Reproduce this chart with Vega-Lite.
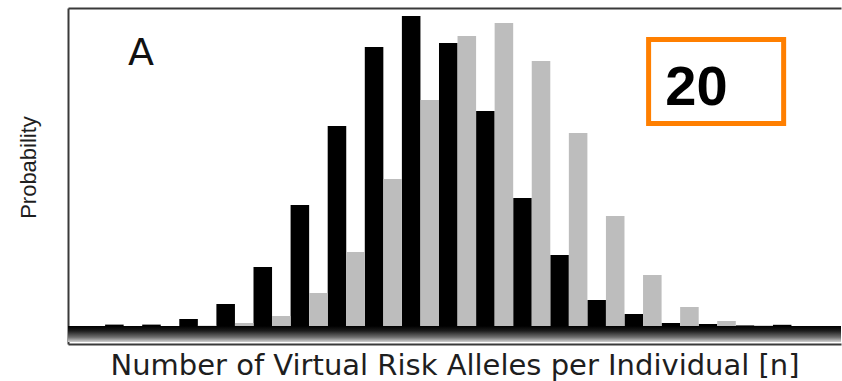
{
  "$schema": "https://vega.github.io/schema/vega-lite/v6.json",
  "width": 773,
  "height": 336,
  "autosize": {"type": "none"},
  "padding": {"left": 68, "top": 8, "right": 1, "bottom": 37},
  "background": "white",
  "config": {"view": {"stroke": null}},
  "layer": [
    {
      "data": {
        "values": [
          {"n": 0, "group": "1", "p": 0},
          {"n": 1, "group": "1", "p": 0.0007},
          {"n": 2, "group": "1", "p": 0.0007},
          {"n": 3, "group": "1", "p": 0.0035},
          {"n": 4, "group": "1", "p": 0.011},
          {"n": 5, "group": "1", "p": 0.0295},
          {"n": 6, "group": "1", "p": 0.0605},
          {"n": 7, "group": "1", "p": 0.1},
          {"n": 8, "group": "1", "p": 0.1395},
          {"n": 9, "group": "1", "p": 0.155},
          {"n": 10, "group": "1", "p": 0.1415},
          {"n": 11, "group": "1", "p": 0.1075},
          {"n": 12, "group": "1", "p": 0.064},
          {"n": 13, "group": "1", "p": 0.0355},
          {"n": 14, "group": "1", "p": 0.013},
          {"n": 15, "group": "1", "p": 0.006},
          {"n": 16, "group": "1", "p": 0.0015},
          {"n": 17, "group": "1", "p": 0.001},
          {"n": 18, "group": "1", "p": 0.0003},
          {"n": 19, "group": "1", "p": 0.0006},
          {"n": 0, "group": "2", "p": 0},
          {"n": 1, "group": "2", "p": 0},
          {"n": 2, "group": "2", "p": 0},
          {"n": 3, "group": "2", "p": 0.0002},
          {"n": 4, "group": "2", "p": 0.0015},
          {"n": 5, "group": "2", "p": 0.005},
          {"n": 6, "group": "2", "p": 0.0165},
          {"n": 7, "group": "2", "p": 0.037},
          {"n": 8, "group": "2", "p": 0.0735},
          {"n": 9, "group": "2", "p": 0.113},
          {"n": 10, "group": "2", "p": 0.145},
          {"n": 11, "group": "2", "p": 0.1515},
          {"n": 12, "group": "2", "p": 0.1325},
          {"n": 13, "group": "2", "p": 0.0965},
          {"n": 14, "group": "2", "p": 0.055},
          {"n": 15, "group": "2", "p": 0.0255},
          {"n": 16, "group": "2", "p": 0.0095},
          {"n": 17, "group": "2", "p": 0.0025},
          {"n": 18, "group": "2", "p": 0.0003},
          {"n": 19, "group": "2", "p": 0}
        ]
      },
      "mark": {"type": "bar"},
      "encoding": {
        "x": {
          "field": "n",
          "type": "ordinal",
          "scale": {"paddingInner": 0, "paddingOuter": 0.418, "align": 0},
          "axis": {
            "orient": "bottom",
            "labels": false,
            "ticks": false,
            "grid": false,
            "domainColor": "#3a3a3a",
            "domainWidth": 2,
            "title": "Number of Virtual Risk Alleles per Individual [n]",
            "titleFont": "DejaVu Sans",
            "titleFontSize": 29,
            "titleFontWeight": "normal",
            "titleColor": "#1e1e1e",
            "titleBaseline": "alphabetic",
            "titleAnchor": "middle",
            "titleY": 30
          }
        },
        "xOffset": {
          "field": "group",
          "type": "nominal",
          "scale": {"paddingInner": 0, "paddingOuter": 0}
        },
        "y": {
          "field": "p",
          "type": "quantitative",
          "scale": {"domain": [-0.009, 0.159], "nice": false, "zero": false},
          "axis": {
            "labels": false,
            "ticks": false,
            "grid": false,
            "domainColor": "#3a3a3a",
            "domainWidth": 2,
            "title": "Probability",
            "titleFont": "Liberation Sans",
            "titleFontSize": 22,
            "titleFontWeight": "normal",
            "titleColor": "#1e1e1e",
            "titleBaseline": "alphabetic",
            "titleAngle": -90,
            "titleAlign": "center",
            "titleX": -33,
            "titleY": 159
          }
        },
        "color": {
          "field": "group",
          "type": "nominal",
          "scale": {"domain": ["1", "2"], "range": ["#000000", "#bdbdbd"]},
          "legend": null
        }
      }
    },
    {
      "data": {"values": [{}]},
      "layer": [
        {
          "mark": {
            "type": "rect",
            "fill": {
              "gradient": "linear",
              "x1": 0, "y1": 0, "x2": 0, "y2": 1,
              "stops": [
                {"offset": 0, "color": "#000000"},
                {"offset": 0.3, "color": "#1c1c1c"},
                {"offset": 0.7, "color": "#6e6e6e"},
                {"offset": 1, "color": "#d0d0d0"}
              ]
            }
          },
          "encoding": {
            "x": {
              "datum": 0,
              "type": "quantitative",
              "scale": {"domain": [0, 20.836], "nice": false, "zero": false},
              "axis": {
                "orient": "top",
                "labels": false,
                "ticks": false,
                "grid": false,
                "title": null,
                "domainColor": "#3a3a3a",
                "domainWidth": 2
              }
            },
            "x2": {"datum": 20.836},
            "y": {"datum": 0},
            "y2": {"datum": -0.008}
          }
        },
        {
          "mark": {"type": "rect", "fill": null, "stroke": "#ff7f00", "strokeWidth": 5},
          "encoding": {
            "x": {"datum": 15.65, "type": "quantitative"},
            "x2": {"datum": 19.29},
            "y": {"datum": 0.1433},
            "y2": {"datum": 0.1013}
          }
        },
        {
          "mark": {"type": "text", "font": "Liberation Sans", "fontWeight": "bold", "fontSize": 56, "align": "center", "baseline": "alphabetic", "color": "#000000"},
          "encoding": {
            "x": {"datum": 16.94, "type": "quantitative"},
            "y": {"datum": 0.1105},
            "text": {"value": "20"}
          }
        },
        {
          "mark": {"type": "text", "font": "DejaVu Sans", "fontSize": 38, "align": "center", "baseline": "alphabetic", "color": "#111111"},
          "encoding": {
            "x": {"datum": 1.97, "type": "quantitative"},
            "y": {"datum": 0.1305},
            "text": {"value": "A"}
          }
        }
      ]
    }
  ],
  "resolve": {"scale": {"x": "independent"}, "axis": {"x": "independent"}}
}
